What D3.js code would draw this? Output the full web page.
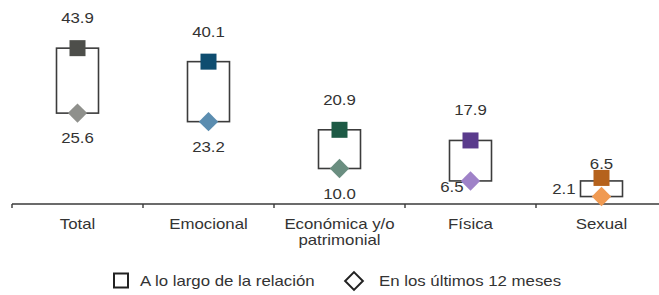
<!DOCTYPE html>
<html>
<head>
<meta charset="utf-8">
<script src="https://cdn.jsdelivr.net/npm/d3@7"></script>
<style>
  body { margin: 0; background: #fff; }
  text { font-family: "Liberation Sans", Arial, sans-serif; fill: #333; }
</style>
</head>
<body>
<div id="chart"></div>
<script>
(function () {
  const categories = ["Total", "Emocional", "Económica y/o\npatrimonial", "Física", "Sexual"];
  const relacion = [43.9, 40.1, 20.9, 17.9, 6.5];
  const ultimos = [25.6, 23.2, 10.0, 6.5, 2.1];
  const darkColors = ["#4d4e4a", "#0e4d70", "#1d5a45", "#5a3b8c", "#b5621c"];
  const lightColors = ["#8f908c", "#5b8db0", "#6a8e80", "#9f82c8", "#f09a52"];
  const legendLabels = ["A lo largo de la relación", "En los últimos 12 meses"];

  const width = 659;
  const height = 295;
  const SX = 1.16; // reference text is stretched horizontally
  const FONT = "14.5px";

  const svg = d3.select("#chart").append("svg").attr("width", width).attr("height", height);

  const margin = { left: 12 };
  const zeroY = 204;

  const xScale = d3.scaleBand().domain(d3.range(categories.length)).range([margin.left, margin.left + 131 * 5]);
  const yScale = d3.scaleLinear().domain([0, 50]).range([zeroY, zeroY - 50 * 3.55]);

  const rows = categories.map((c, i) => ({
    i, cat: c, hi: relacion[i], lo: ultimos[i], dark: darkColors[i], light: lightColors[i]
  }));

  const stretched = (sel, x, y) => sel.attr("transform", `translate(${x},${y}) scale(${SX},1)`);

  // axis
  svg.append("line")
    .attr("x1", margin.left).attr("x2", width)
    .attr("y1", zeroY).attr("y2", zeroY)
    .attr("stroke", "#3a3a3a").attr("stroke-width", 1.6);

  svg.selectAll(".tick")
    .data(d3.range(categories.length))
    .join("line")
    .attr("class", "tick")
    .attr("x1", d => xScale(d)).attr("x2", d => xScale(d))
    .attr("y1", zeroY).attr("y2", zeroY + 4)
    .attr("stroke", "#3a3a3a").attr("stroke-width", 1.4);

  const cx = d => xScale(d.i) + xScale.bandwidth() / 2;
  const BOX_W = 42;
  const MARK = 16;

  const groups = svg.selectAll(".cat").data(rows).join("g").attr("class", "cat");

  groups.append("rect")
    .attr("x", d => cx(d) - BOX_W / 2)
    .attr("y", d => yScale(d.hi))
    .attr("width", BOX_W)
    .attr("height", d => yScale(d.lo) - yScale(d.hi))
    .attr("fill", "none")
    .attr("stroke", "#3c3c3c")
    .attr("stroke-width", 1.6);

  const diamond = d3.symbol().type(d3.symbolDiamond2).size(240);

  groups.append("path")
    .attr("d", diamond)
    .attr("transform", d => `translate(${cx(d)},${yScale(d.lo)})`)
    .attr("fill", d => d.light);

  groups.append("rect")
    .attr("x", d => cx(d) - MARK / 2)
    .attr("y", d => yScale(d.hi) - MARK / 2 - (d.hi - d.lo < 8 ? 3 : 0))
    .attr("width", MARK).attr("height", MARK)
    .attr("fill", d => d.dark);

  // value labels
  groups.append("text")
    .attr("text-anchor", "middle")
    .attr("font-size", FONT)
    .text(d => d.hi.toFixed(1))
    .each(function (d) {
      const small = (d.hi - d.lo) < 8;
      stretched(d3.select(this), cx(d), yScale(d.hi) + (small ? -12 : -25));
    });

  groups.append("text")
    .attr("font-size", FONT)
    .attr("text-anchor", d => (d.lo < 8 ? "end" : "middle"))
    .text(d => d.lo.toFixed(1))
    .each(function (d) {
      let x = cx(d), y = yScale(d.lo) + 30;
      if (d.hi - d.lo < 8) { x = cx(d) - BOX_W / 2 - 5; y = (yScale(d.hi) + yScale(d.lo)) / 2 + 5; }
      else if (d.lo < 8) { x = cx(d) - 7; y = yScale(d.lo) + 11; }
      stretched(d3.select(this), x, y);
    });

  // category labels
  groups.append("text")
    .attr("text-anchor", "middle")
    .attr("font-size", FONT)
    .each(function (d) {
      const t = d3.select(this);
      stretched(t, cx(d), zeroY + 25);
      d.cat.split("\n").forEach((line, k) => {
        t.append("tspan").attr("x", 0).attr("dy", k === 0 ? 0 : 16).text(line);
      });
    });

  // legend
  const legY = 281;
  const leg = svg.append("g");
  leg.append("rect")
    .attr("x", 114).attr("y", legY - 7.5)
    .attr("width", 14).attr("height", 14)
    .attr("fill", "none").attr("stroke", "#222").attr("stroke-width", 2);
  stretched(leg.append("text").attr("font-size", FONT).text(legendLabels[0]), 140, legY + 5);

  leg.append("path")
    .attr("d", d3.symbol().type(d3.symbolDiamond2).size(200))
    .attr("transform", `translate(354,${legY})`)
    .attr("fill", "none").attr("stroke", "#222").attr("stroke-width", 2);
  stretched(leg.append("text").attr("font-size", FONT).text(legendLabels[1]), 379, legY + 5);
})();
</script>
</body>
</html>
